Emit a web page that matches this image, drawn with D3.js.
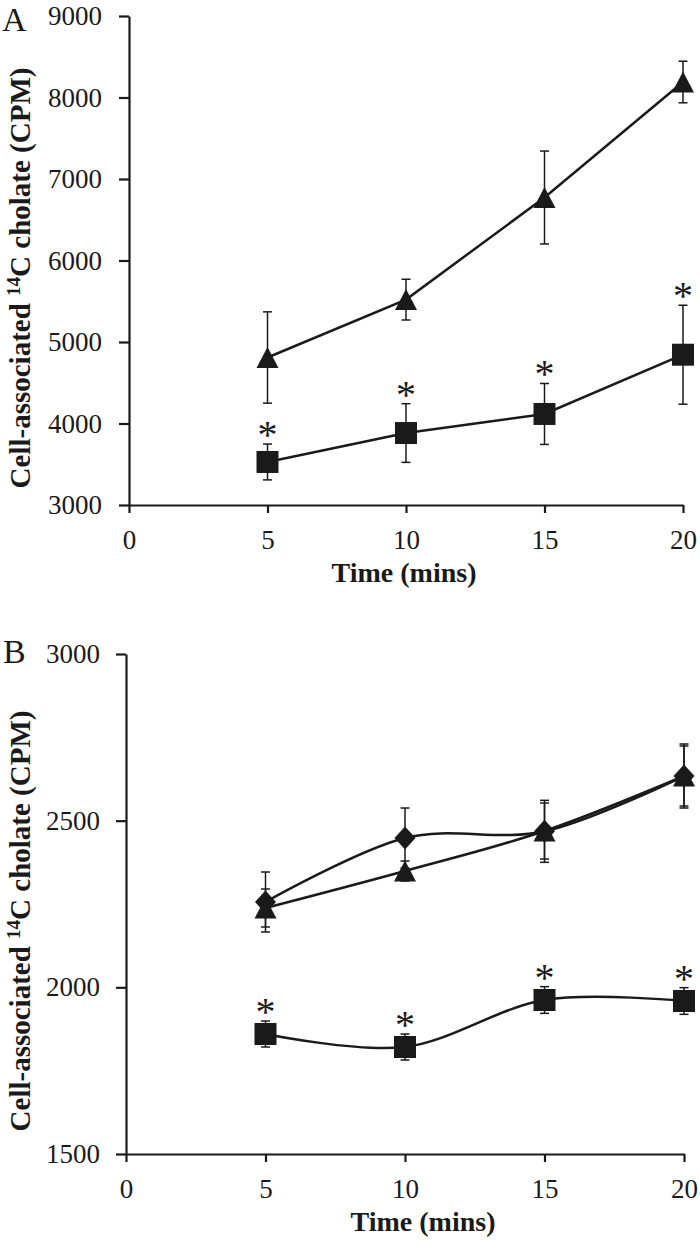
<!DOCTYPE html>
<html>
<head>
<meta charset="utf-8">
<script src="https://cdn.jsdelivr.net/npm/d3@7/dist/d3.min.js"></script>
<style>
  html,body{margin:0;padding:0;background:#fff;}
  svg{display:block;}
  text{font-family:"Liberation Serif","Times New Roman",serif;fill:#1a1a1a;}
</style>
</head>
<body>
<svg id="chart" width="700" height="1244"></svg>
<script>
// ---- data ----
const times = [5, 10, 15, 20];
const xTicks = [0, 5, 10, 15, 20];

// Panel A
const aTicks = [3000, 4000, 5000, 6000, 7000, 8000, 9000];
const aTriangleMean = [4810, 5520, 6773, 8190];
const aTriangleErr  = [560, 250, 570, 255];
const aSquareMean   = [3528, 3883, 4117, 4844];
const aSquareErr    = [220, 360, 374, 607];
const aSquareStar   = [true, true, true, true];

// Panel B
const bTicks = [1500, 2000, 2500, 3000];
const bDiamondMean  = [2256, 2448, 2468, 2634];
const bDiamondErr   = [90, 90, 93, 96];
const bTriangleMean = [2238, 2349, 2469, 2634];
const bTriangleErr  = [57, 30, 84, 90];
const bSquareMean   = [1860, 1821, 1962, 1959];
const bSquareErr    = [39, 39, 40, 40];
const bSquareStar   = [true, true, true, true];

const yLabelMain = "Cell-associated ";
const yLabelSup = "14";
const yLabelRest = "C cholate (CPM)";
const xLabel = "Time (mins)";

const svg = d3.select("#chart");
const INK = "#1a1a1a";

const shapes = {
  triangle: "M0,-10.5L11,10.5L-11,10.5Z",
  square: "M-11,-11H11V11H-11Z",
  diamond: "M0,-11.5L10.5,0L0,11.5L-10.5,0Z"
};

function drawPanel(cfg) {
  const x = d3.scaleLinear().domain([0, 20]).range([cfg.x0, cfg.x1]);
  const y = d3.scaleLinear().domain(cfg.yDomain).range([cfg.yBottom, cfg.yTop]);
  const g = svg.append("g");

  const yAxis = d3.axisLeft(y).tickValues(cfg.yTicks).tickSize(10).tickSizeOuter(0).tickPadding(cfg.yPad).tickFormat(d3.format("d"));
  const xAxis = d3.axisBottom(x).tickValues(xTicks).tickSize(8).tickSizeOuter(0).tickPadding(17).tickFormat(d3.format("d"));
  const gy = g.append("g").attr("transform", `translate(${cfg.x0},0)`).call(yAxis);
  const gx = g.append("g").attr("transform", `translate(0,${cfg.yBottom})`).call(xAxis);
  [gx, gy].forEach(a => {
    a.selectAll("path.domain").attr("stroke", INK).attr("stroke-width", 2.2);
    a.selectAll(".tick line").attr("stroke", INK).attr("stroke-width", 2.2);
    a.selectAll(".tick text").attr("font-size", 27).attr("font-family", "Liberation Serif").attr("fill", INK);
  });

  cfg.series.forEach(s => {
    const pts = times.map((t, i) => ({t, v: s.mean[i], e: s.err[i], star: s.star ? s.star[i] : false}));
    const eb = g.append("g").attr("stroke", INK).attr("stroke-width", 1.5);
    pts.forEach(p => {
      const cx = x(p.t), yt = y(p.v + p.e), yb = y(p.v - p.e);
      eb.append("line").attr("x1", cx).attr("x2", cx).attr("y1", yt).attr("y2", yb);
      eb.append("line").attr("x1", cx - 4.5).attr("x2", cx + 4.5).attr("y1", yt).attr("y2", yt);
      eb.append("line").attr("x1", cx - 4.5).attr("x2", cx + 4.5).attr("y1", yb).attr("y2", yb);
    });
    const line = d3.line().x(p => x(p.t)).y(p => y(p.v)).curve(cfg.curve);
    g.append("path").datum(pts).attr("d", line).attr("fill", "none").attr("stroke", INK).attr("stroke-width", 2.5);
    g.append("g").selectAll("path").data(pts).join("path")
      .attr("d", shapes[s.shape])
      .attr("transform", p => `translate(${x(p.t)},${y(p.v)})`)
      .attr("fill", INK);
    g.append("g").selectAll("text").data(pts.filter(p => p.star)).join("text")
      .attr("x", p => x(p.t)).attr("y", p => y(p.v + p.e) + 4)
      .attr("text-anchor", "middle").attr("font-size", 40).text("*");
  });

  g.append("text").attr("x", cfg.xLabelX).attr("y", cfg.xLabelY)
    .attr("text-anchor", "middle").attr("font-size", 28).attr("font-weight", "bold").text(xLabel);

  const yl = g.append("text")
    .attr("transform", `translate(${cfg.yLabelX},${cfg.yLabelY}) rotate(-90)`)
    .attr("text-anchor", "middle").attr("font-size", 29).attr("font-weight", "bold");
  yl.append("tspan").text(yLabelMain);
  yl.append("tspan").attr("font-size", 19).attr("dy", -10).text(yLabelSup);
  yl.append("tspan").attr("dy", 10).text(yLabelRest);

  g.append("text").attr("x", cfg.letterX).attr("y", cfg.letterY).attr("font-size", 34).text(cfg.letter);
}

drawPanel({
  letter: "A", letterX: 2, letterY: 31,
  x0: 129, x1: 683, yTop: 16, yBottom: 505,
  yDomain: [3000, 9000], yTicks: aTicks, yPad: 17,
  xLabelX: 404, xLabelY: 582,
  yLabelX: 30, yLabelY: 278,
  curve: d3.curveLinear,
  series: [
    {shape: "triangle", mean: aTriangleMean, err: aTriangleErr},
    {shape: "square", mean: aSquareMean, err: aSquareErr, star: aSquareStar}
  ]
});

drawPanel({
  letter: "B", letterX: 3, letterY: 663,
  x0: 126, x1: 684, yTop: 654, yBottom: 1154,
  yDomain: [1500, 3000], yTicks: bTicks, yPad: 16,
  xLabelX: 423, xLabelY: 1231,
  yLabelX: 30, yLabelY: 921,
  curve: d3.curveCatmullRom.alpha(0),
  series: [
    {shape: "diamond", mean: bDiamondMean, err: bDiamondErr},
    {shape: "triangle", mean: bTriangleMean, err: bTriangleErr},
    {shape: "square", mean: bSquareMean, err: bSquareErr, star: bSquareStar}
  ]
});
</script>
</body>
</html>
